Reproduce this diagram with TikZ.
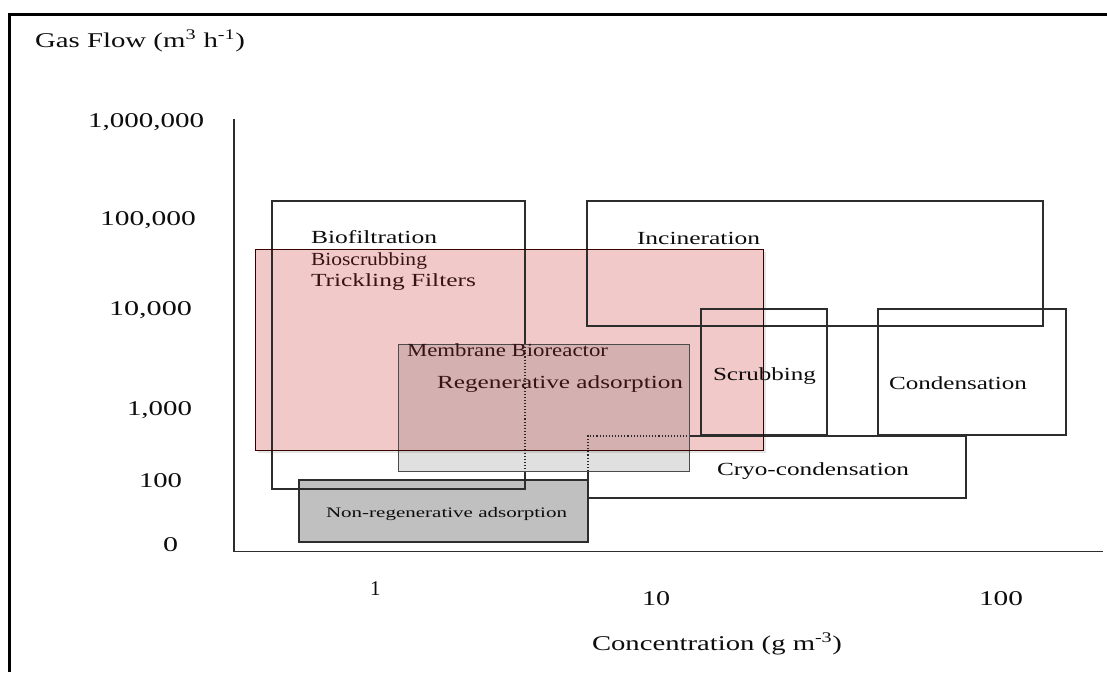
\documentclass[tikz,border=0pt]{standalone}
\usepackage{fontspec}
\setmainfont{Liberation Serif}
\usepackage{graphicx}
\definecolor{pinkfill}{RGB}{242,201,201}
\definecolor{grayfill}{RGB}{192,192,192}
\definecolor{linecol}{RGB}{45,45,45}
\definecolor{pinktext}{RGB}{55,20,20}
\newcommand\fw[2]{\resizebox{#1pt}{\height}{#2}}
\begin{document}
\begin{tikzpicture}[x=1pt,y=-1pt,
  boxline/.style={draw=linecol, line width=1.3pt},
  dotline/.style={draw=linecol, line width=1.1pt, dotted},
  axisline/.style={draw=linecol, line width=1.3pt},
  lbl/.style={anchor=base west, inner sep=0pt, outer sep=0pt, text=black!95},
  axlbl/.style={lbl, font=\fontsize{21}{24}\selectfont},
  boxlbl/.style={lbl, font=\fontsize{18.5}{22}\selectfont},
  smalllbl/.style={lbl, font=\fontsize{14.5}{17}\selectfont}]
\useasboundingbox (0,0) rectangle (1107,672);
% frame
\draw[line width=3.8pt, black] (9.5,672) -- (9.5,14.5) -- (1107,14.5);
% pink region (biological treatments)
\fill[black, opacity=0.10] (258,252) rectangle (766,453);
\fill[pinkfill] (255,249) rectangle (763,450);
% grey box
\filldraw[fill=grayfill, draw=linecol, line width=1.4pt] (299,480) rectangle (588,542);
% axes
\draw[axisline] (234,119) -- (234,551.5) -- (1103,551.5);
% outline boxes
\draw[boxline] (525,344) -- (525,201) -- (272,201) -- (272,489) -- (525,489) -- (525,471);
\draw[dotline] (525,344) -- (525,471);
\draw[boxline] (587,201) rectangle (1043,326);
\draw[boxline] (701,309) rectangle (827,435);
\draw[boxline] (878,309) rectangle (1066,435);
\draw[boxline] (689,436) -- (966,436) -- (966,498) -- (588,498) -- (588,471);
\draw[dotline] (588,471) -- (588,436) -- (689,436);
% membrane / regenerative box
\filldraw[fill=black, fill opacity=0.12, draw=black!70, line width=1pt] (398,344) rectangle (689,471);
% pink outline
\draw[draw=black!65!red!60!black, line width=0.9pt] (255,249) rectangle (763,450);
% axis labels
\node[axlbl] (ytitle) at (35,47) {\fw{210}{Gas Flow (m\textsuperscript{3} h\textsuperscript{-1})}};
\node[axlbl] (y1m) at (88,127) {\fw{116}{1,000,000}};
\node[axlbl] (y100k) at (100,225) {\fw{96}{100,000}};
\node[axlbl] (y10k) at (109,315) {\fw{83}{10,000}};
\node[axlbl] (y1k) at (127,415.5) {\fw{65}{1,000}};
\node[axlbl] (y100) at (139,487) {\fw{43}{100}};
\node[axlbl] (y0) at (163,551) {\fw{15}{0}};
\node[axlbl] (x1) at (370,595) {1};
\node[axlbl] (x10) at (642,605) {\fw{28}{10}};
\node[axlbl] (x100) at (979,605) {\fw{44}{100}};
\node[axlbl] (xtitle) at (592,650) {\fw{250}{Concentration (g m\textsuperscript{-3})}};
% box labels
\node[boxlbl] (tbiof) at (311,243) {\fw{126}{Biofiltration}};
\node[boxlbl, text=pinktext] (tbios) at (311,265.7) {\fw{116}{Bioscrubbing}};
\node[boxlbl, text=pinktext] (ttrick) at (311,286.7) {\fw{165}{Trickling Filters}};
\node[boxlbl] (tinc) at (637,244) {\fw{123}{Incineration}};
\node[boxlbl, text=pinktext] (tmem) at (407,356.7) {\fw{201}{Membrane Bioreactor}};
\node[boxlbl, text=pinktext] (treg) at (437,388) {\fw{246}{Regenerative adsorption}};
\node[boxlbl] (tscr) at (713,380) {\fw{103}{Scrubbing}};
\node[boxlbl] (tcond) at (889,389) {\fw{138}{Condensation}};
\node[boxlbl] (tcryo) at (717,475) {\fw{192}{Cryo-condensation}};
\node[smalllbl] (tnon) at (326,517) {\fw{241}{Non-regenerative adsorption}};
\end{tikzpicture}
\end{document}
